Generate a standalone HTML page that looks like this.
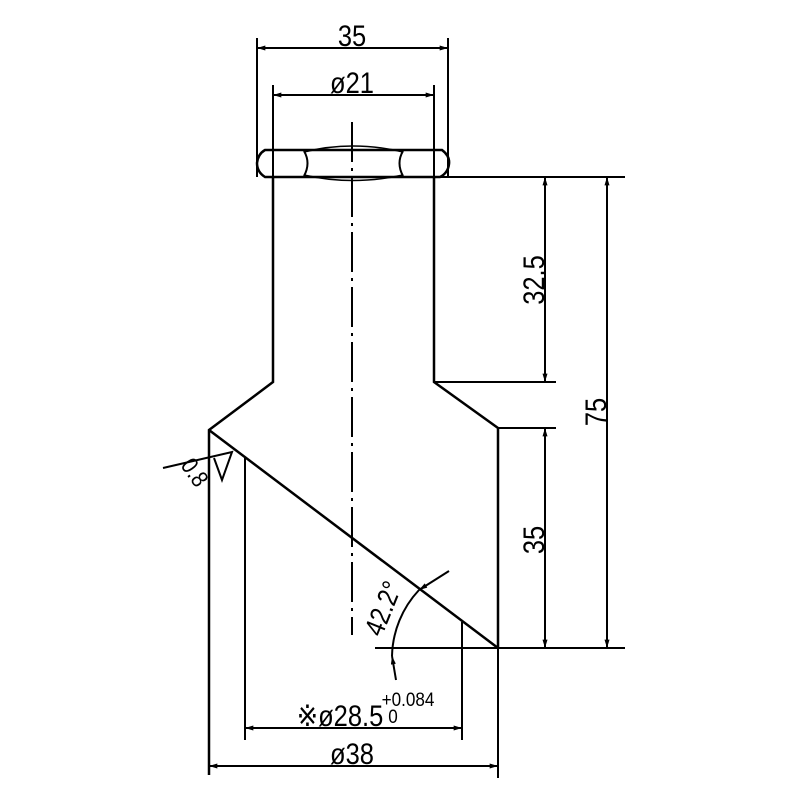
<!DOCTYPE html>
<html><head><style>body{margin:0;background:#fff}svg{display:block}</style></head><body>
<svg width="800" height="800" viewBox="0 0 800 800" xmlns="http://www.w3.org/2000/svg">
<defs>
<marker id="a" viewBox="0 0 10 6" refX="10" refY="3" markerWidth="12" markerHeight="5" orient="auto-start-reverse" markerUnits="userSpaceOnUse"><path d="M0,0L10,3L0,6z" fill="#000"/></marker>
</defs>
<g stroke="#000" fill="none" stroke-width="2.5">
<path d="M265,150 L442,150 Q450,156 449,164 Q448,173 440,177 L265,177 Q257,172 257,163 Q258,154 265,150z"/>
<path d="M304,151 Q311,163 304,176 M403,151 Q396,163 403,176" stroke-width="2"/>
<path d="M304,152 Q352,140 403,152 M304,175 Q352,186 403,175" stroke-width="1.5"/>
<path d="M273,177 L273,382 L209,430 L209,775"/>
<path d="M434,177 L434,382 L498,428 L498,648"/>
<path d="M209,430 L498,648"/>
<path d="M245,457 L245,740" stroke-width="2"/>
<path d="M462,622 L462,740" stroke-width="2"/>
<path d="M434,177 L625,177 M434,382 L556,382 M498,428 L556,428 M375,648 L625,648" stroke-width="2"/>
<path d="M257,38 L257,177 M448,38 L448,177 M273,85 L273,177 M434,85 L434,177 M498,648 L498,778" stroke-width="2"/>
<path d="M352,122 L352,635" stroke-width="2" stroke-dasharray="40,6,3,6"/>
<g stroke-width="2">
<path d="M257,48 L448,48" marker-start="url(#a)" marker-end="url(#a)"/>
<path d="M273,95 L434,95" marker-start="url(#a)" marker-end="url(#a)"/>
<path d="M545,177 L545,382" marker-start="url(#a)" marker-end="url(#a)"/>
<path d="M607,177 L607,648" marker-start="url(#a)" marker-end="url(#a)"/>
<path d="M545,428 L545,648" marker-start="url(#a)" marker-end="url(#a)"/>
<path d="M245,728 L462,728" marker-start="url(#a)" marker-end="url(#a)"/>
<path d="M209,766 L498,766" marker-start="url(#a)" marker-end="url(#a)"/>
<path d="M419,590 A100,100 0 0 0 392,656" />
<path d="M449,571 L419,590" marker-end="url(#a)"/>
<path d="M396,680 L392,656" marker-end="url(#a)"/>
<path d="M163,468 L232,452 L222,480 L214,458"/>
</g>
</g>
<g font-family="'Liberation Sans',sans-serif" font-size="30" fill="#000" text-anchor="middle">
<text transform="translate(352,46) scale(0.85,1)">35</text>
<text transform="translate(352,93) scale(0.85,1)">ø21</text>
<text transform="translate(544,280) rotate(-90) scale(0.85,1)">32.5</text>
<text transform="translate(606,412) rotate(-90) scale(0.85,1)">75</text>
<text transform="translate(544,540) rotate(-90) scale(0.85,1)">35</text>
<text transform="translate(392,612) rotate(-68) scale(0.85,1)" font-size="28">42.2°</text>
<text transform="translate(188,477) rotate(55) scale(0.85,1)" font-size="24">0.8</text>
<text transform="translate(340,726) scale(0.85,1)">※ø28.5</text>
<text transform="translate(408,706) scale(0.9,1)" font-size="19">+0.084</text>
<text transform="translate(393,723) scale(0.9,1)" font-size="19">0</text>
<text transform="translate(352,764) scale(0.85,1)">ø38</text>
</g>
</svg>
</body></html>
